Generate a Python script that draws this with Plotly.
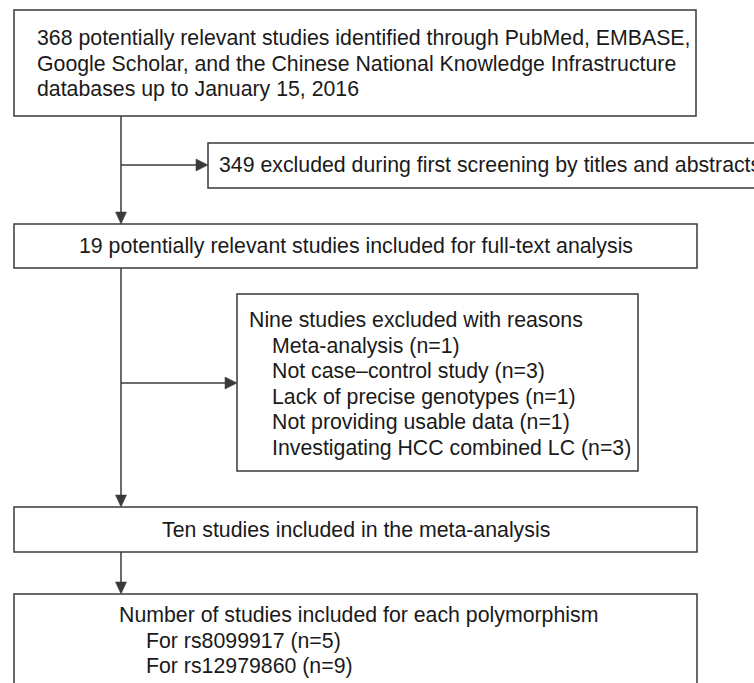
import plotly.graph_objects as go

# ---- content of the flow diagram ----
identified_lines = [
    "368 potentially relevant studies identified through PubMed, EMBASE,",
    "Google Scholar, and the Chinese National Knowledge Infrastructure",
    "databases up to January 15, 2016",
]
screen_excluded_text = "349 excluded during first screening by titles and abstracts"
fulltext_text = "19 potentially relevant studies included for full-text analysis"
excl_heading = "Nine studies excluded with reasons"
excl_reasons = [
    "Meta-analysis",
    "Not case\u2013control study",
    "Lack of precise genotypes",
    "Not providing usable data",
    "Investigating HCC combined LC",
]
excl_counts = [1, 3, 1, 1, 3]
included_text = "Ten studies included in the meta-analysis"
poly_heading = "Number of studies included for each polymorphism"
polymorphisms = ["rs8099917", "rs12979860"]
poly_counts = [5, 9]

W, H = 754, 683
LINE = "#3a3a3a"
TXT = "#1a1a1a"
FONT = "Arial, Liberation Sans, sans-serif"
FS = 21.3
LH = 25.6

fig = go.Figure()
fig.add_trace(go.Scatter(x=[None], y=[None], showlegend=False, hoverinfo="skip"))

def box(x0, y0, x1, y1):
    fig.add_shape(type="rect", x0=x0, y0=y0, x1=x1, y1=y1, xref="x", yref="y",
                  line=dict(color=LINE, width=1.5), fillcolor="white", layer="below")

def line(x0, y0, x1, y1):
    fig.add_shape(type="line", x0=x0, y0=y0, x1=x1, y1=y1, xref="x", yref="y",
                  line=dict(color=LINE, width=1.5))

def head_down(x, ytip, L=12, hw=5.5):
    fig.add_shape(type="path", xref="x", yref="y",
                  path=f"M {x-hw},{ytip-L} L {x+hw},{ytip-L} L {x},{ytip} Z",
                  fillcolor=LINE, line=dict(color=LINE, width=0.5))

def head_right(xtip, y, L=12, hw=6):
    fig.add_shape(type="path", xref="x", yref="y",
                  path=f"M {xtip-L},{y-hw} L {xtip-L},{y+hw} L {xtip},{y} Z",
                  fillcolor=LINE, line=dict(color=LINE, width=0.5))

def text(x, y, s, anchor="left"):
    fig.add_annotation(x=x, y=y, xref="x", yref="y", text=s, showarrow=False,
                       xanchor=anchor, yanchor="middle", align=anchor,
                       font=dict(family=FONT, size=FS, color=TXT))

# boxes
box(14, 10, 696, 116)
box(208, 143, 770, 188)
box(14, 224, 697, 268)
box(237, 294, 638, 471)
box(14, 507, 697, 552)
box(14, 594, 697, 700)

# connectors
CX = 121
line(CX, 116, CX, 213)
head_down(CX, 224)
line(CX, 165, 197, 165)
head_right(208, 165)
line(CX, 268, CX, 496)
head_down(CX, 507)
line(CX, 383, 226, 383)
head_right(237, 383)
line(CX, 552, CX, 583)
head_down(CX, 594)

# texts
for i, s in enumerate(identified_lines):
    text(35, 38 + i * LH, s)
text(217, 165, screen_excluded_text)
text(355.5, 246, fulltext_text, anchor="center")
text(247, 320, excl_heading)
for i, (r, n) in enumerate(zip(excl_reasons, excl_counts)):
    text(270, 320 + (i + 1) * LH, f"{r} (n={n})")
text(355.5, 529.5, included_text, anchor="center")
text(117, 615, poly_heading)
for i, (p, n) in enumerate(zip(polymorphisms, poly_counts)):
    text(144, 615 + (i + 1) * LH, f"For {p} (n={n})")

fig.update_layout(
    width=W, height=H,
    margin=dict(l=0, r=0, t=0, b=0),
    paper_bgcolor="white", plot_bgcolor="white",
    xaxis=dict(range=[0, W], visible=False, fixedrange=True),
    yaxis=dict(range=[H, 0], visible=False, fixedrange=True),
    showlegend=False,
)
fig.write_html(
    "out.html",
    config={"displayModeBar": False},
    post_script="document.body.style.margin='0';document.body.style.overflow='hidden';",
)
